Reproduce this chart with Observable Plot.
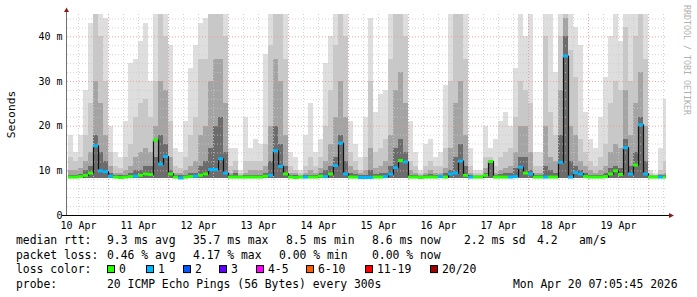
<!DOCTYPE html>
<html><head><meta charset="utf-8">
<script src="https://cdn.jsdelivr.net/npm/d3@7"></script>
<script src="https://cdn.jsdelivr.net/npm/@observablehq/plot@0.6"></script>
<style>
body{margin:0;background:#fff;}
#wrap{width:697px;height:297px;}
svg{display:block;}
</style></head><body><div id="wrap"></div>
<script>
// ---- time window ----
const windowStart = Date.UTC(2026, 3, 10, 7, 36);
const windowEnd = Date.UTC(2026, 3, 20, 7, 36);
const dataEnd = Date.UTC(2026, 3, 20, 7, 5, 45);
const firstBin = Date.UTC(2026, 3, 10, 8);
const binHours = 2;

// ---- smoke levels (ms), one value per 2-hour bin, Apr 10 08:00 .. Apr 20 06:00 ----
const smokeMax = [18,14,18,28,43,45,45,44,
  20,14,13,21,34,35,39,43,30,45,45,45,
  38,15,14,21,33,38,43,44,45,45,45,45,
  15,15,10,22,15,17,16,36,45,45,45,45,
  14,13,10,18,25,14,17,34,40,45,45,45,
  21,16,13,22,44,23,27,28,45,45,45,45,
  21,14,10,16,17,13,14,29,45,45,45,45,
  15,10,10,20,15,17,21,23,20,33,45,40,
  45,14,14,45,45,32,45,45,45,42,38,23,
  17,15,22,31,40,45,39,45,45,45,45,45,
  10,9.5,15,26];
const smokeHigh = [13,12,13,18,25,45,40,30,
  14,11,10.5,13,16,22,25,26,22,30,45,40,
  21,11,10.5,13,18,22,35,35,45,45,45,40,
  11,12,9.3,12,12,12,12,16,38,45,45,35,
  11,10,9.3,11,13,11,13,20,28,38,45,40,
  14,12,10,13,30,14,15,17,35,45,45,40,
  12,11,9.3,11,12,11,11,15,30,45,45,35,
  11,9.3,9.5,13,13,11,13,14,15,22,30,28,
  25,11,11,40,23,18,40,45,37,31,17,14,
  12,11,13,16,25,30,28,42,30,40,45,35,
  9.3,9,10,12];
const smokeMid = [10,10,10.5,12,14,30,25,18,
  11,9.5,9.3,10,11,13,14,15,14,20,30,28,
  13,9.5,9.3,10,11,12,18,20,30,35,35,25,
  9.5,10,9,9.5,10,10,10,11,20,35,30,18,
  9.5,9.3,9,9.5,10,9.5,10.5,12,16,22,30,22,
  11,10,9.3,10,15,10.5,11,12,18,28,32,25,
  10,9.5,9,9.5,10,9.5,9.5,10.5,15,25,30,18,
  9.5,9,9,10.5,12.1,9.5,10,10.5,11,14,20,20,
  14,9.5,9.5,20,13,12,28,44,20,18,12,11,
  10,9.5,10,11,14,16,15,28,18,25,32,20,
  9,8.9,9.2,9.5];
const smokeCore = [9,9,9.2,10,11,18,14,12,
  9.5,9,8.9,9,9.3,10,10,11,11,13,18,16,
  10,9,8.9,9,9.3,9.5,11,12,15,20,22,14,
  9,9.3,8.8,9,9,9,9,9.5,12,20,16,11,
  9,8.9,8.8,9,9,9,9.3,10,11,13,18,12,
  9.5,9.2,8.9,9,10,9.2,9.3,9.5,11,15,17,14,
  9,9,8.8,9,9.2,9,9,9.3,10,13,16,11,
  9,8.8,8.8,9.5,12,9,9.2,9.3,9.5,10.5,13,13,
  10,9,9,11,10,9.5,18,40,12,11,10,9.5,
  9,9,9,9.5,10.5,11,10.5,17,11,14,22,12,
  8.8,8.7,8.9,9];
const medianRtt = [8.6,8.6,8.7,9.0,9.5,15.6,10.0,9.8,
  8.8,8.6,8.5,8.6,8.7,8.8,9.0,9.3,9.2,16.9,11.5,13.2,
  9.3,8.6,8.4,8.6,8.7,8.8,9.0,9.3,10.3,10.3,12.7,9.5,
  8.6,8.6,8.6,8.6,8.6,8.6,8.6,8.8,9.0,14.5,11.0,9.3,
  8.6,8.5,8.6,8.6,8.6,8.6,8.8,8.7,9.3,11.2,16.2,9.3,
  8.6,8.6,8.5,8.5,8.5,8.6,8.6,8.7,9.3,10.7,12.3,12.0,
  8.6,8.6,8.5,8.6,8.6,8.6,8.7,8.6,9.3,9.5,12.2,9.0,
  8.6,8.6,8.6,9.0,12.1,8.6,8.6,8.6,8.6,8.7,10.8,9.5,
  9.3,8.6,8.6,8.6,8.6,8.6,11.9,35.7,8.6,9.6,9.3,8.7,
  8.6,8.6,8.6,8.7,9.3,10.0,9.2,15.2,9.3,11.3,20.3,9.3,
  8.6,8.6,8.6,8.6];
const lostPings = [0,0,0,0,0,1,1,1,
  1,0,0,0,0,1,0,0,0,0,1,1,
  0,0,1,0,0,1,0,0,1,1,1,1,
  0,0,0,0,0,0,0,0,1,1,1,0,
  0,0,0,1,0,0,0,1,0,1,1,1,
  0,0,1,1,1,0,0,1,1,1,0,1,
  0,0,0,0,0,0,1,0,1,1,1,0,
  1,0,0,0,0,0,0,0,1,1,1,0,
  1,0,0,1,0,0,1,1,1,1,1,0,
  0,0,0,0,0,0,0,1,1,0,1,1,
  0,0,1,0];
const minRtt = 8.2;

// ---- legend / labels ----
const lossColors = ["#26ff00","#00b8ff","#0059ff","#5e00ff","#ff00ff","#ff5e00","#ff0000","#a10000"];
const lossLabels = ["0","1","2","3","4-5","6-10","11-19","20/20"];
const dayLabels = ["10 Apr","11 Apr","12 Apr","13 Apr","14 Apr","15 Apr","16 Apr","17 Apr","18 Apr","19 Apr"];
const yTicks = [0,10,20,30,40];
const yTickLabels = ["0","10 m","20 m","30 m","40 m"];
const rowTitles = ["median rtt:","packet loss:","loss color:","probe:"];
const rttStats = ["9.3 ms avg","35.7 ms max","8.5 ms min","8.6 ms now","2.2 ms sd","4.2","am/s"];
const lossStats = ["0.46 % avg","4.17 % max","0.00 % min","0.00 % now"];
const probeText = "20 ICMP Echo Pings (56 Bytes) every 300s";
const stampText = "Mon Apr 20 07:05:45 2026";
const watermark = "RRDTOOL / TOBI OETIKER";
const yLabel = "Seconds";

const smokeColors = ["#dedede","#c8c8c8","#a4a4a4","#6c6c6c"];
const cap = 45;

const bins = medianRtt.map((m, i) => {
  const t0 = firstBin + i * binHours * 3600e3;
  const t1 = Math.min(t0 + binHours * 3600e3, dataEnd);
  return {
    t0: new Date(t0), t1: new Date(t1), tm: new Date((t0 + t1) / 2),
    s1: Math.min(smokeMax[i], cap), s2: Math.min(smokeHigh[i], cap),
    s3: Math.min(smokeMid[i], cap), s4: Math.min(smokeCore[i], cap),
    med: m, loss: lostPings[i]
  };
});

const noons = dayLabels.map((_, i) => new Date(Date.UTC(2026, 3, 10 + i, 12)));
const midnights = d3.utcDay.range(new Date(windowStart), new Date(windowEnd));
const sixHours = d3.utcHour.every(6).range(new Date(windowStart), new Date(windowEnd)).filter(d => d.getUTCHours() !== 0);
const minorY = d3.range(2, 45, 2).filter(v => v % 10 !== 0);
const majorY = yTicks.filter(v => v > 0);

const smokeMark = (key, color) => Plot.rectY(bins, {x1: "t0", x2: "t1", y1: () => minRtt, y2: key, fill: color, shapeRendering: "crispEdges"});

const chart = Plot.plot({
  width: 697, height: 297,
  marginLeft: 67, marginRight: 30, marginTop: 14, marginBottom: 82,
  x: {type: "utc", domain: [new Date(windowStart), new Date(windowEnd)]},
  y: {domain: [0, 45]},
  style: {fontFamily: '"DejaVu Sans Mono", monospace', fontSize: "10px", background: "#ffffff", color: "#000", overflow: "visible"},
  marks: [
    smokeMark("s1", smokeColors[0]),
    smokeMark("s2", smokeColors[1]),
    smokeMark("s3", smokeColors[2]),
    smokeMark("s4", smokeColors[3]),
    Plot.gridY(minorY, {stroke: "#c8c8c8", strokeOpacity: 0.8, strokeDasharray: "1,2"}),
    Plot.gridX(sixHours, {stroke: "#c8c8c8", strokeOpacity: 0.8, strokeDasharray: "1,2"}),
    Plot.gridY(majorY, {stroke: "#e59a9a", strokeOpacity: 0.9, strokeDasharray: "1,2"}),
    Plot.gridX(midnights, {stroke: "#e59a9a", strokeOpacity: 0.9, strokeDasharray: "1,2"}),
    Plot.line(bins, {x: "tm", y: "med", curve: "step", stroke: "#111", strokeWidth: 1.2}),
    Plot.ruleY(bins, {y: "med", x1: "t0", x2: "t1", stroke: d => lossColors[d.loss], strokeWidth: 3}),
    Plot.axisY(yTicks, {tickSize: 0, tickPadding: 5, tickFormat: d => yTickLabels[yTicks.indexOf(d)], label: null, fontSize: 10}),
    Plot.axisX(noons, {tickSize: 0, tickPadding: 6, tickFormat: d => dayLabels[noons.findIndex(n => +n === +d)], label: null, fontSize: 10})
  ]
});
document.getElementById("wrap").appendChild(chart);

// ---- RRDtool-style decorations ----
const svgSel = d3.select(chart);
const xs = chart.scale("x"), ys = chart.scale("y");
const pxLeft = xs.range[0], pxRight = xs.range[1];
const pxBottom = ys.range[0], pxTop = ys.range[1];
const g = svgSel.append("g").attr("text-anchor", "start");
g.append("line").attr("x1", pxLeft - 0.5).attr("x2", pxLeft - 0.5).attr("y1", pxBottom + 0.5).attr("y2", pxTop - 4)
  .attr("stroke", "#707070").attr("stroke-width", 1);
g.append("line").attr("x1", pxLeft - 5).attr("x2", pxRight + 3).attr("y1", pxBottom + 0.5).attr("y2", pxBottom + 0.5)
  .attr("stroke", "#000").attr("stroke-width", 1);
g.append("path").attr("d", `M${pxLeft - 3},${pxTop - 2} L${pxLeft + 2},${pxTop - 2} L${pxLeft - 0.5},${pxTop - 6.5} Z`).attr("fill", "#8b1a1a");
g.append("path").attr("d", `M${pxRight + 2},${pxBottom - 2} L${pxRight + 2},${pxBottom + 3} L${pxRight + 7},${pxBottom + 0.5} Z`).attr("fill", "#8b1a1a");

g.append("text").attr("transform", `translate(15,${(pxTop + pxBottom) / 2}) rotate(-90)`)
  .attr("text-anchor", "middle").attr("font-family", '"DejaVu Sans Mono", monospace').attr("font-size", 11.3).attr("fill", "#000").text(yLabel);

g.append("text").attr("transform", `translate(683.5,5) rotate(90)`).attr("text-anchor", "start")
  .attr("font-family", '"DejaVu Sans Mono", monospace').attr("font-size", 8.3).attr("fill", "#b0b0b0").text(watermark);

const legendFont = '"DejaVu Sans Mono", monospace';
const legendSize = 11.4;
const rowBase = [244.3, 258.7, 273.1, 287.5];
function txt(x, y, s) {
  g.append("text").attr("x", x).attr("y", y).attr("text-anchor", "start").attr("font-family", legendFont).attr("font-size", legendSize)
    .attr("fill", "#000").attr("xml:space", "preserve").text(s);
}
rowTitles.forEach((t, i) => txt(16, rowBase[i], t));
const rttX = [107, 193, 286, 372, 464, 537, 579];
rttStats.forEach((t, i) => txt(rttX[i], rowBase[0], t));
const lossX = [107, 193, 279, 372];
lossStats.forEach((t, i) => txt(lossX[i], rowBase[1], t));
const boxX = [107, 146, 183, 219, 256, 306, 365, 430];
lossLabels.forEach((t, i) => {
  g.append("rect").attr("x", boxX[i] + 0.5).attr("y", rowBase[2] - 7.5).attr("width", 7).attr("height", 7)
    .attr("fill", lossColors[i]).attr("stroke", "#000").attr("stroke-width", 1);
  txt(boxX[i] + 12, rowBase[2], t);
});
txt(107, rowBase[3], probeText);
txt(513, rowBase[3], stampText);
</script></body></html>
